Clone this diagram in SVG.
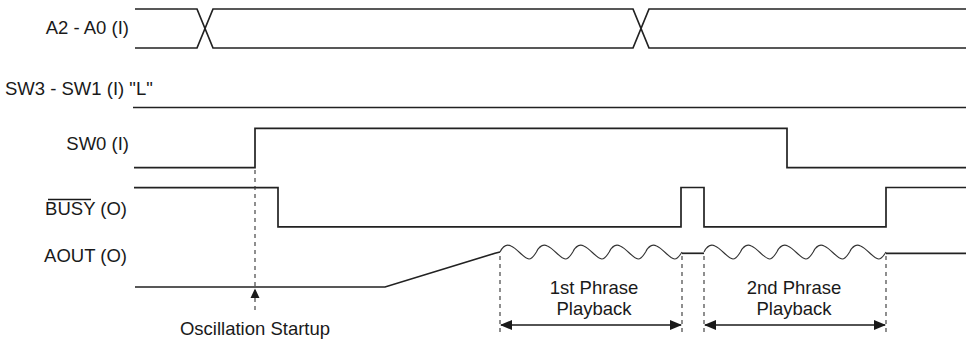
<svg xmlns="http://www.w3.org/2000/svg" width="966" height="344" viewBox="0 0 966 344">
<style>
  text { font-family: "Liberation Sans", Arial, sans-serif; font-size: 18.5px; fill: #1a1a1a; }
  .lbl { text-anchor: end; }
  .mid { text-anchor: middle; }
  .sig { fill: none; stroke: #222; stroke-width: 1.7; stroke-linejoin: miter; }
  .wave { fill: none; stroke: #333; stroke-width: 1.1; }
  .dash { fill: none; stroke: #333; stroke-width: 1.1; stroke-dasharray: 4 4; }
  .arr { fill: none; stroke: #1a1a1a; stroke-width: 1.6; }
</style>
<defs>
  <marker id="ah" viewBox="0 0 12 10" refX="11" refY="5" markerWidth="12" markerHeight="10" markerUnits="userSpaceOnUse" orient="auto-start-reverse">
    <path d="M0,0 L12,5 L0,10 Z" fill="#1a1a1a"/>
  </marker>
</defs>

<g id="a2a0">
  <text class="lbl" x="129" y="34">A2 - A0 (I)</text>
  <path class="sig" d="M135,9 H197 L213,48 H633 L649,9 H966"/>
  <path class="sig" d="M135,48 H197 L213,9 H633 L649,48 H966"/>
</g>

<g id="sw3sw1">
  <text x="5" y="95">SW3 - SW1 (I) "L"</text>
  <path class="sig" d="M133,107.5 H966"/>
</g>

<g id="sw0">
  <text class="lbl" x="129" y="150">SW0 (I)</text>
  <path class="sig" d="M134,167.7 H255 V128.3 H787 V167.7 H966"/>
</g>

<g id="busy">
  <text class="lbl" x="127" y="215">BUSY (O)</text>
  <line x1="48" y1="199.5" x2="91" y2="199.5" stroke="#1a1a1a" stroke-width="1.4"/>
  <path class="sig" d="M134,187.7 H278 V226.8 H681 V187.5 H704 V226.8 H886 V187.5 H966"/>
</g>

<g id="aout">
  <text class="lbl" x="127" y="262">AOUT (O)</text>
  <path class="sig" d="M135,287 H385 L495,253.3 L500,252"/>
  <path class="wave" d="M500,252
    c3,-6 7,-8 11,-6 c7,3 12,12 18,13 c3,0 5,-3 7.4,-7
    c3,-6 7,-8 11,-6 c7,3 12,12 18,13 c3,0 5,-3 7.4,-7
    c3,-6 7,-8 11,-6 c7,3 12,12 18,13 c3,0 5,-3 7.4,-7
    c3,-6 7,-8 11,-6 c7,3 12,12 18,13 c3,0 5,-3 7.4,-7
    c3,-6 7,-8 11,-6 c7,3 12,12 18,13 c3,0 5,-3 7.4,-7"/>
  <path class="sig" d="M682,253.3 H704"/>
  <path class="wave" d="M704,252
    c3,-6 7,-8 11,-6 c7,3 12,12 18,13 c3,0 5,-3 7.4,-7
    c3,-6 7,-8 11,-6 c7,3 12,12 18,13 c3,0 5,-3 7.4,-7
    c3,-6 7,-8 11,-6 c7,3 12,12 18,13 c3,0 5,-3 7.4,-7
    c3,-6 7,-8 11,-6 c7,3 12,12 18,13 c3,0 5,-3 7.4,-7
    c3,-6 7,-8 11,-6 c7,3 12,12 18,13 c3,0 5,-3 7.4,-7"/>
  <path class="sig" d="M886,253.3 H966"/>
</g>

<g id="connectors">
  <path class="dash" d="M255,170 V311"/>
  <path class="dash" d="M500,256 V332"/>
  <path class="dash" d="M682,256 V332"/>
  <path class="dash" d="M704,256 V332"/>
  <path class="dash" d="M886,256 V332"/>
  <path d="M255,288.5 L259.5,298 L250.5,298 Z" fill="#1a1a1a"/>
  <path class="arr" d="M501,325 H681" marker-start="url(#ah)" marker-end="url(#ah)"/>
  <path class="arr" d="M705,325 H885" marker-start="url(#ah)" marker-end="url(#ah)"/>
</g>

<g id="notes">
  <text class="mid" x="255" y="335">Oscillation Startup</text>
  <text class="mid" x="594" y="294">1st Phrase</text>
  <text class="mid" x="594" y="315">Playback</text>
  <text class="mid" x="794" y="294">2nd Phrase</text>
  <text class="mid" x="794" y="315">Playback</text>
</g>
</svg>
